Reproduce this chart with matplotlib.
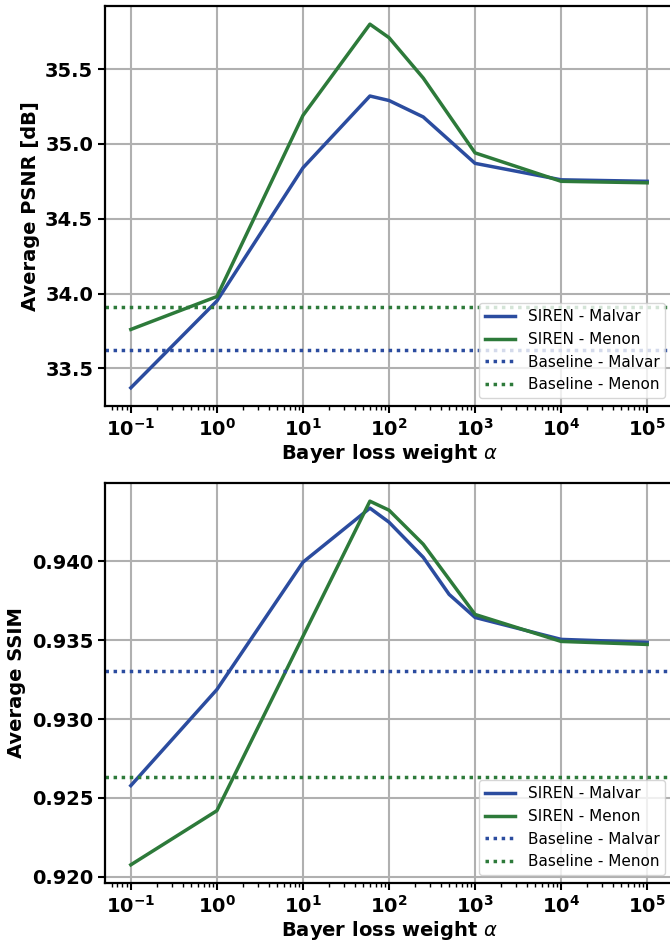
import matplotlib
matplotlib.use("Agg")
import matplotlib.pyplot as plt
from matplotlib.ticker import FuncFormatter, NullFormatter, FixedLocator
import numpy as np

# ---- data ----
alpha = [0.1, 1, 10, 60, 100, 250, 500, 1000, 10000, 100000]
xticks = [0.1, 1, 10, 100, 1000, 10000, 100000]

psnr_malvar = [33.37, 33.95, 34.84, 35.32, 35.29, 35.18, 35.025, 34.87, 34.76, 34.75]
psnr_menon = [33.76, 33.98, 35.19, 35.80, 35.71, 35.44, 35.19, 34.94, 34.75, 34.74]
psnr_base_malvar = 33.62
psnr_base_menon = 33.91

ssim_malvar = [0.92578, 0.93187, 0.93994, 0.94337, 0.94248, 0.94025, 0.93790, 0.93644, 0.93505, 0.93486]
ssim_menon = [0.92076, 0.92419, 0.93524, 0.94381, 0.94324, 0.94108, 0.93886, 0.93663, 0.93492, 0.93473]
ssim_base_malvar = 0.93302
ssim_base_menon = 0.92635

labels = ["SIREN - Malvar", "SIREN - Menon", "Baseline - Malvar", "Baseline - Menon"]
ylabels = ["Average PSNR [dB]", "Average SSIM"]
xlabel = r"Bayer loss weight $\alpha$"

BLUE = "#2B4C9F"
GREEN = "#2D7A3A"

W, H = 670, 943
fig = plt.figure(figsize=(W / 100, H / 100), dpi=100)

left = 105 / W
width = 568 / W
ax1 = fig.add_axes([left, 1 - 406 / H, width, 400 / H])
ax2 = fig.add_axes([left, 1 - 883 / H, width, 400 / H])

dot = (0, (1, 1.33))


def logfmt(v, pos):
    e = int(round(np.log10(v)))
    return r"$\mathbf{10^{%d}}$" % e


for ax, m, n, bm, bn, yl in [
    (ax1, psnr_malvar, psnr_menon, psnr_base_malvar, psnr_base_menon, ylabels[0]),
    (ax2, ssim_malvar, ssim_menon, ssim_base_malvar, ssim_base_menon, ylabels[1]),
]:
    ax.plot(alpha, m, color=BLUE, lw=2.5, label=labels[0])
    ax.plot(alpha, n, color=GREEN, lw=2.5, label=labels[1])
    ax.axhline(bm, color=BLUE, lw=2.5, linestyle=dot, label=labels[2])
    ax.axhline(bn, color=GREEN, lw=2.5, linestyle=dot, label=labels[3])
    ax.set_xscale("log")
    ax.xaxis.set_major_locator(FixedLocator(xticks))
    ax.xaxis.set_major_formatter(FuncFormatter(logfmt))
    ax.xaxis.set_minor_formatter(NullFormatter())
    ax.grid(True, which="major", color="#b0b0b0", lw=1.5)
    ax.set_axisbelow(True)
    for s in ax.spines.values():
        s.set_linewidth(1.6)
        s.set_color("black")
    ax.tick_params(axis="both", which="major", labelsize=14, width=1.5, length=5)
    ax.tick_params(axis="x", which="minor", width=1.0, length=3)
    ax.set_ylabel(yl, fontsize=14, fontweight="bold")
    ax.set_xlabel(xlabel, fontsize=14, fontweight="bold", labelpad=2)
    ax.legend(loc="lower right", fontsize=11, framealpha=0.8)

ax2.yaxis.set_major_formatter(FuncFormatter(lambda v, p: "%.3f" % v))
for ax in (ax1, ax2):
    for t in ax.get_yticklabels():
        t.set_fontweight("bold")

fig.savefig("out.png", dpi=100)
